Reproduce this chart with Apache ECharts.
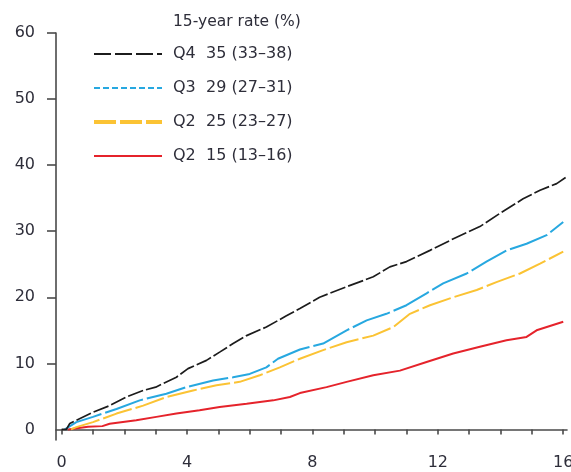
<!DOCTYPE html>
<html>
<head>
<meta charset="utf-8">
<script src="https://cdn.jsdelivr.net/npm/echarts@6/dist/echarts.min.js"></script>
<style>
html,body{margin:0;padding:0;background:#fff;}
#chart{width:571px;height:472px;}
</style>
</head>
<body>
<div id="chart"></div>
<script>
// ---- data ----
const legendTitle = '15-year rate (%)';
const seriesNames = ['Q4  35 (33\u201338)', 'Q3  29 (27\u201331)', 'Q2  25 (23\u201327)', 'Q2  15 (13\u201316)'];

const q4Years = [0, 0.15, 0.26, 1.0, 1.53, 2.06, 2.6, 3.0, 3.66, 4.03, 4.62, 5.04, 5.47, 5.9, 6.53, 7.17, 7.6, 8.23, 9.09, 9.94, 10.47, 11.0, 11.75, 12.6, 13.34, 13.98, 14.72, 15.26, 15.79, 16.1];
const q4Rate  = [0, 0, 0.9, 2.6, 3.6, 4.9, 5.9, 6.4, 7.9, 9.2, 10.45, 11.7, 13.0, 14.2, 15.5, 17.2, 18.3, 20.0, 21.6, 23.1, 24.6, 25.4, 27.1, 29.1, 30.7, 32.7, 34.9, 36.2, 37.2, 38.2];

const q3Years = [0.1, 0.47, 1.0, 1.75, 2.49, 3.34, 3.98, 4.83, 5.47, 6.0, 6.53, 6.9, 7.6, 8.34, 9.09, 9.73, 10.36, 11.0, 11.64, 12.17, 12.92, 13.55, 14.19, 14.83, 15.47, 16.0];
const q3Rate  = [0, 1.1, 1.9, 3.1, 4.4, 5.4, 6.4, 7.4, 7.9, 8.4, 9.4, 10.7, 12.1, 13.0, 15.0, 16.5, 17.5, 18.8, 20.6, 22.1, 23.6, 25.4, 27.1, 28.1, 29.4, 31.4];

const q2aYears = [0.3, 0.47, 1.0, 1.75, 2.6, 3.34, 4.19, 4.94, 5.68, 6.32, 6.96, 7.6, 8.34, 9.09, 9.94, 10.58, 11.11, 11.75, 12.49, 13.24, 13.87, 14.62, 15.26, 16.0];
const q2aRate  = [0, 0.35, 1.1, 2.4, 3.6, 4.9, 5.9, 6.7, 7.2, 8.2, 9.4, 10.7, 12.0, 13.2, 14.2, 15.5, 17.5, 18.8, 20.0, 21.1, 22.3, 23.6, 25.1, 26.9];

const q2bYears = [0.2, 0.84, 1.3, 1.53, 2.38, 3.02, 3.66, 4.4, 5.04, 5.9, 6.75, 7.28, 7.6, 8.45, 9.09, 9.94, 10.79, 11.64, 12.49, 13.34, 14.19, 14.83, 15.15, 16.0];
const q2bRate  = [0, 0.4, 0.5, 0.85, 1.4, 1.9, 2.4, 2.9, 3.4, 3.9, 4.4, 4.9, 5.5, 6.4, 7.2, 8.2, 8.9, 10.2, 11.5, 12.5, 13.5, 14.0, 15.0, 16.3];

const xTickValues  = [0,1,2,3,4,5,6,7,8,9,10,11,12,13,14,15,16];
const xLabelValues = [0, 4, 8, 12, 16];
const yTickValues  = [10, 20, 30, 40, 50, 60];
const yLabelValues = [0, 10, 20, 30, 40, 50, 60];

// ---- build ----
const pairs = (xs, ys) => xs.map((x, i) => [x, ys[i]]);
const FONT = "'DejaVu Sans', 'Liberation Sans', Arial, sans-serif";
const TXT = '#2e2e3a';
const AX = '#4a4a4a';

const styles = [
  {color: '#1c1c1c', width: 1.7, type: [16, 3], legendType: [17, 4], legendWidth: 2},
  {color: '#27a8e0', width: 2,   type: [40, 4], legendType: [6, 3],  legendWidth: 2},
  {color: '#fbc334', width: 2,   type: [30, 4], legendType: [22, 4], legendWidth: 4},
  {color: '#e5232b', width: 2,   type: 'solid', legendType: 'solid', legendWidth: 2}
];
const dataSets = [pairs(q4Years, q4Rate), pairs(q3Years, q3Rate), pairs(q2aYears, q2aRate), pairs(q2bYears, q2bRate)];

const series = seriesNames.map((name, i) => ({
  name: name,
  type: 'line',
  data: dataSets[i],
  symbol: 'none',
  z: 10 - i,
  lineStyle: {color: styles[i].color, width: styles[i].width, type: styles[i].type},
  itemStyle: {color: styles[i].color},
  animation: false
}));

const chart = echarts.init(document.getElementById('chart'), null, {renderer: 'canvas'});
chart.setOption({
  animation: false,
  backgroundColor: '#fff',
  title: {
    text: legendTitle,
    left: 168, top: 9,
    textStyle: {fontFamily: FONT, fontSize: 15.5, fontWeight: 'normal', color: TXT}
  },
  legend: {
    orient: 'vertical',
    left: 87, top: 39,
    itemWidth: 68, itemHeight: 14, itemGap: 14,
    selectedMode: false,
    textStyle: {fontFamily: FONT, fontSize: 16, color: TXT, lineHeight: 20, padding: [0, 0, 0, 6]},
    data: seriesNames.map((n, i) => ({
      name: n,
      itemStyle: {color: 'rgba(0,0,0,0)', borderWidth: 0, opacity: 0},
      lineStyle: {type: styles[i].legendType, width: styles[i].legendWidth, color: styles[i].color, opacity: 1}
    }))
  },
  grid: {left: 56, right: 4, top: 33, bottom: 32, containLabel: false, outerBoundsMode: 'none'},
  xAxis: {
    type: 'value',
    min: -0.18, max: 16.12,
    axisLine: {show: true, onZero: true, lineStyle: {color: AX, width: 1.6}},
    axisTick: {show: true, length: 5, customValues: xTickValues, lineStyle: {color: AX, width: 1.6}},
    axisLabel: {customValues: xLabelValues, margin: 15, fontFamily: FONT, fontSize: 16, color: TXT},
    splitLine: {show: false}
  },
  yAxis: {
    type: 'value',
    min: -1.6, max: 60,
    axisLine: {show: true, onZero: false, lineStyle: {color: AX, width: 1.6}},
    axisTick: {show: true, length: 9, customValues: yTickValues, lineStyle: {color: AX, width: 1.6}},
    axisLabel: {customValues: yLabelValues, margin: 21, fontFamily: FONT, fontSize: 16, color: TXT},
    splitLine: {show: false}
  },
  series: series
});
</script>
</body>
</html>
